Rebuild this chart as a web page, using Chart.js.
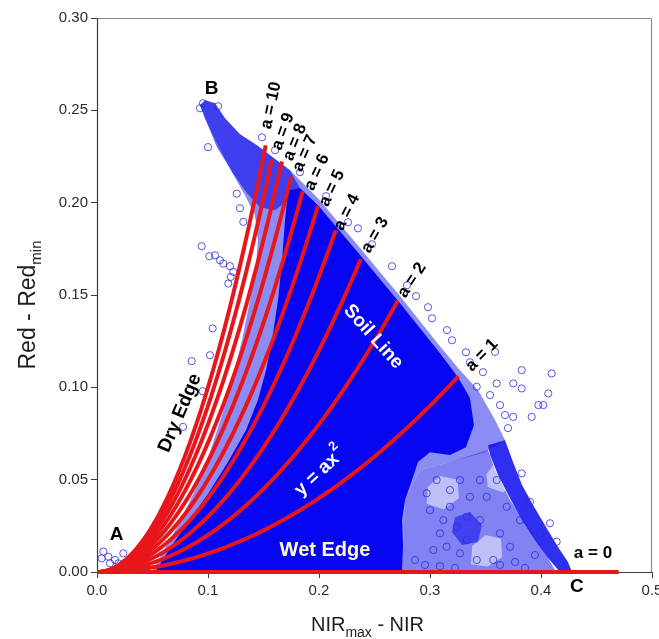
<!DOCTYPE html>
<html>
<head>
<meta charset="utf-8">
<script src="https://cdn.jsdelivr.net/npm/chart.js@4.4.1/dist/chart.umd.min.js"></script>
<style>
  html, body { margin: 0; padding: 0; background: #ffffff; }
  canvas { display: block; }
</style>
</head>
<body>
<canvas id="chart" width="659" height="639"></canvas>
<script>
// ---- y = a·x² family: coefficient a and the x where each curve reaches the soil line
const curveA    = [10, 9, 8, 7, 6, 5, 4, 3, 2, 1];
const curveEndX = [0.152, 0.1574, 0.1667, 0.1748, 0.1853, 0.1991, 0.2151, 0.2376, 0.271, 0.3255];
const wetEdgeEndX = 0.47;   // a = 0 runs along the x axis

// ---- axis ticks
const xTickValues = [0, 0.1, 0.2, 0.3, 0.4, 0.5];
const yTickValues = [0, 0.05, 0.10, 0.15, 0.20, 0.25, 0.30];

// ---- pixel cloud: outlines of the point-density zones, [NIRmax-NIR, Red-Redmin]
const cloudEnvelope = [
  [0.0495,0],[0.0613,0.0130],[0.0748,0.0271],[0.0883,0.0444],[0.1018,0.0649],[0.1126,0.0850],
  [0.1216,0.1039],[0.1306,0.1255],[0.1378,0.1472],[0.1432,0.1661],[0.1450,0.1797],[0.1423,0.1932],
  [0.1333,0.2040],[0.1216,0.2165],[0.1090,0.2311],[0.0973,0.2457],[0.0928,0.2527],[0.0973,0.2554],
  [0.1063,0.2538],[0.1153,0.2457],[0.1288,0.2370],[0.1441,0.2311],[0.1622,0.2229],[0.1739,0.2175],
  [0.1991,0.2024],[0.2189,0.1883],[0.2387,0.1742],[0.2595,0.1591],[0.2730,0.1494],[0.2910,0.1358],
  [0.3090,0.1223],[0.3270,0.1093],[0.3432,0.0985],[0.3586,0.0823],[0.3676,0.0714],[0.3495,0.0649],
  [0.3180,0.0595],[0.2910,0.0552],[0.2775,0.0390],[0.2748,0]
];
const cloudCore = [
  [0.0523,0],[0.0658,0.0130],[0.0820,0.0271],[0.1000,0.0422],[0.1180,0.0595],[0.1342,0.0768],
  [0.1450,0.0931],[0.1523,0.1093],[0.1577,0.1255],[0.1631,0.1472],[0.1667,0.1688],[0.1694,0.1905],
  [0.1721,0.2067],[0.1829,0.2078],[0.1991,0.1986],[0.2189,0.1845],[0.2387,0.1705],[0.2595,0.1553],
  [0.2730,0.1456],[0.2910,0.1320],[0.3090,0.1185],[0.3252,0.1055],[0.3360,0.0942],[0.3396,0.0795],
  [0.3324,0.0676],[0.3180,0.0633],[0.3000,0.0649],[0.2892,0.0595],[0.2838,0.0498],[0.2775,0.0390],
  [0.2748,0.0281],[0.2757,0.0146],[0.2748,0]
];
const bandB = [
  [0.0973,0.2554],[0.1063,0.2538],[0.1153,0.2457],[0.1288,0.2370],[0.1441,0.2311],[0.1622,0.2229],
  [0.1739,0.2175],[0.1829,0.2078],[0.1721,0.2013],[0.1604,0.1959],[0.1468,0.1975],[0.1351,0.2051],
  [0.1225,0.2159],[0.1081,0.2300],[0.0973,0.2457],[0.0928,0.2527]
];
const sparseZone = [
  [0.2748,0],[0.2775,0.039],[0.291,0.0552],[0.318,0.0595],[0.3523,0.0660],[0.3586,0.0552],
  [0.3721,0.039],[0.3901,0.0227],[0.4063,0.0076],[0.4135,0]
];
const lowerArm = [
  [0.3676,0.0714],[0.3748,0.0595],[0.3829,0.0471],[0.3928,0.0363],[0.4045,0.0244],[0.4153,0.0135],
  [0.4243,0.0054],[0.4279,0],[0.4171,0],[0.4063,0.0076],[0.3946,0.0173],[0.3829,0.0281],
  [0.3721,0.0400],[0.3613,0.0525],[0.3541,0.0633],[0.3523,0.0687]
];
const midCluster = [
  [0.3225,0.0297],[0.3360,0.0325],[0.3468,0.0254],[0.3432,0.0162],[0.3288,0.0146],[0.3198,0.0216]
];
// gaps with few pixels inside the sparse zone
const gapWest  = [[0.297,0.037],[0.312,0.034],[0.326,0.040],[0.325,0.050],[0.309,0.052],[0.298,0.046]];
const gapEast  = [[0.352,0.046],[0.366,0.043],[0.377,0.050],[0.372,0.058],[0.358,0.059],[0.351,0.053]];
const gapSouth = [[0.337,0.004],[0.352,0.003],[0.365,0.008],[0.364,0.018],[0.350,0.020],[0.338,0.014]];
// individual pixels outside the dense zones
const loosePoints = [
  [0.3586,0.1192],[0.3826,0.1093],[0.4096,0.1075],[0.3601,0.1021],[0.3750,0.1021],[0.3826,0.0994],
  [0.4066,0.0967],[0.3976,0.0904],[0.4021,0.0904],[0.3676,0.0850],[0.3750,0.0840],[0.3916,0.0840],
  [0.3421,0.1003],[0.3826,0.0534],[0.3901,0.0380],[0.4081,0.0264],[0.4141,0.0164],
  [0.1042,0.1319],[0.1018,0.1174],[0.0853,0.1142],[0.0952,0.0979],[0.0775,0.0786],
  [0.0943,0.1764],[0.1012,0.1710],[0.1063,0.1715],[0.1108,0.1688],[0.1138,0.1670],[0.1198,0.1656],
  [0.1228,0.1625],[0.1205,0.1598],[0.1183,0.1562],[0.1288,0.1970],[0.1318,0.1896],[0.1259,0.2049],
  [0.1090,0.2522],[0.1000,0.2301],[0.0955,0.2538],[0.0928,0.2511],
  [0.0057,0.0110],[0.0042,0.0074],[0.0102,0.0083],[0.0162,0.0065],[0.0237,0.0101],[0.0192,0.0047],[0.0117,0.0047],
  [0.1486,0.2354],[0.1604,0.2284],[0.1829,0.2165],[0.2063,0.2035],[0.2261,0.1894],[0.2351,0.1861],
  [0.2477,0.1775],[0.2658,0.1656],[0.2793,0.1553],[0.2874,0.1494],[0.2982,0.1434],[0.3018,0.1374],
  [0.3153,0.1310],[0.3198,0.1255],[0.3324,0.1190],[0.3360,0.1136],[0.3477,0.1082],[0.3541,0.0958],
  [0.3631,0.0904],[0.3703,0.0779],
  [0.2970,0.0426],[0.3060,0.0498],[0.3180,0.0444],[0.3270,0.0498],[0.3360,0.0407],[0.3000,0.0335],
  [0.3120,0.0281],[0.3240,0.0245],[0.3331,0.0173],[0.3450,0.0281],[0.3631,0.0209],[0.3721,0.0137],
  [0.3150,0.0137],[0.3030,0.0119],[0.3270,0.0101],[0.3421,0.0065],[0.3570,0.0065],[0.3331,0.0299],
  [0.3511,0.0407],[0.3450,0.0498],[0.3601,0.0498],[0.3691,0.0353],[0.3811,0.0281],[0.3991,0.0209],
  [0.3871,0.0372],[0.3180,0.0353],[0.3090,0.0209],[0.2865,0.0065],[0.2955,0.0038],[0.3090,0.0032],
  [0.3225,0.0022],[0.3631,0.0038],[0.3766,0.0054],[0.3856,0.0022],[0.3946,0.0092]
];

// ---- annotation text placed in data coordinates
const FONT = '"Liberation Sans", Arial, Helvetica, sans-serif';
const plotLabels = [
  { text: 'a = 10', x: 0.1568, y: 0.2527, rot: -78 },
  { text: 'a = 9',  x: 0.1676, y: 0.2386, rot: -70 },
  { text: 'a = 8',  x: 0.1784, y: 0.2327, rot: -68 },
  { text: 'a = 7',  x: 0.1874, y: 0.2267, rot: -66 },
  { text: 'a = 6',  x: 0.1982, y: 0.2165, rot: -65 },
  { text: 'a = 5',  x: 0.2117, y: 0.2078, rot: -64 },
  { text: 'a = 4',  x: 0.2252, y: 0.1948, rot: -63 },
  { text: 'a = 3',  x: 0.2505, y: 0.1824, rot: -60 },
  { text: 'a = 2',  x: 0.2838, y: 0.1580, rot: -57 },
  { text: 'a = 1',  x: 0.3468, y: 0.1174, rot: -46 },
  { text: 'a = 0',  x: 0.4468, y: 0.0103, rot: 0 },
  { text: 'B', x: 0.1033, y: 0.2617, rot: 0, size: 19 },
  { text: 'A', x: 0.0177, y: 0.0200, rot: 0, size: 19 },
  { text: 'C', x: 0.4322, y: -0.0080, rot: 0, size: 19 },
  { text: 'Dry Edge',  x: 0.0748, y: 0.0860, rot: -67, size: 19 },
  { text: 'Soil Line', x: 0.2489, y: 0.1274, rot: 48, size: 19, color: '#ffffff' },
  { text: 'Wet Edge',  x: 0.2054, y: 0.0119, rot: 0, size: 20, color: '#ffffc8' },
  { text: 'y = ax', sup: '2', x: 0.2009, y: 0.0542, rot: -43, size: 19, color: '#ffffff' }
];

const toPts = arr => arr.map(([x, y]) => ({ x, y }));

function zone(data, color, order) {
  return {
    type: 'line', data: toPts(data), order,
    borderWidth: 0, borderColor: 'rgba(0,0,0,0)', backgroundColor: color,
    pointRadius: 0, tension: 0, fill: 'shape', clip: false
  };
}

// each curve is y = a·x², as labelled on the plot
function curvePoints(a, endX) {
  const pts = [];
  const n = 60;
  for (let i = 0; i <= n; i++) {
    const x = endX * i / n;
    pts.push({ x, y: a * x * x });
  }
  return pts;
}

const RED = 'rgb(232,22,26)';
const datasets = [];
curveA.forEach((a, i) => {
  datasets.push({
    type: 'line', label: 'a = ' + a, data: curvePoints(a, curveEndX[i]), order: 1,
    borderColor: RED, borderWidth: 4, pointRadius: 0, tension: 0, fill: false
  });
});
datasets.push({
  type: 'line', label: 'a = 0', data: [{ x: 0, y: 0 }, { x: wetEdgeEndX, y: 0 }], order: 1,
  borderColor: RED, borderWidth: 4, pointRadius: 0, fill: false, clip: 4
});
datasets.push({
  type: 'scatter', label: 'pixels', data: toPts(loosePoints), order: 2,
  pointStyle: 'circle', pointRadius: 3.6, borderWidth: 1,
  borderColor: 'rgba(45,45,215,0.8)', backgroundColor: 'rgba(0,0,0,0)'
});
datasets.push(zone(lowerArm,   'rgba(10,10,238,0.85)', 3));
datasets.push(zone(midCluster, 'rgba(12,12,235,0.55)', 3));
datasets.push(zone(cloudCore,  'rgb(6,6,242)', 4));
datasets.push(zone(bandB,      'rgba(12,12,235,0.6)', 5));
datasets.push(zone(gapWest,    'rgba(255,255,255,0.5)', 6));
datasets.push(zone(gapEast,    'rgba(255,255,255,0.5)', 6));
datasets.push(zone(gapSouth,   'rgba(255,255,255,0.5)', 6));
datasets.push(zone(sparseZone, 'rgba(28,28,234,0.55)', 7));
datasets.push(zone(cloudEnvelope, 'rgba(25,25,235,0.5)', 8));

// plot frame
const framePlugin = {
  id: 'frame',
  beforeDatasetsDraw(chart) {
    const { ctx, chartArea: a } = chart;
    ctx.save();
    ctx.lineWidth = 1.2;
    ctx.strokeStyle = '#8a8a8a';
    ctx.beginPath();
    ctx.moveTo(a.left, a.top + 0.5);
    ctx.lineTo(a.right - 0.5, a.top + 0.5);
    ctx.lineTo(a.right - 0.5, a.bottom);
    ctx.stroke();
    ctx.strokeStyle = '#3a3a3a';
    ctx.beginPath();
    ctx.moveTo(a.left + 0.5, a.top);
    ctx.lineTo(a.left + 0.5, a.bottom + 0.5);
    ctx.lineTo(a.right, a.bottom + 0.5);
    ctx.stroke();
    ctx.restore();
  }
};

// annotation text and axis titles with sub/superscripts
const textPlugin = {
  id: 'texts',
  afterDatasetsDraw(chart) {
    const { ctx, scales: { x, y }, chartArea: area } = chart;
    ctx.save();
    plotLabels.forEach(l => {
      const size = l.size || 17;
      const px = x.getPixelForValue(l.x), py = y.getPixelForValue(l.y);
      ctx.save();
      ctx.translate(px, py);
      ctx.rotate(l.rot * Math.PI / 180);
      ctx.fillStyle = l.color || '#000000';
      ctx.textBaseline = 'middle';
      ctx.font = 'bold ' + size + 'px ' + FONT;
      if (l.sup) {
        const w1 = ctx.measureText(l.text).width;
        ctx.font = 'bold ' + Math.round(size * 0.68) + 'px ' + FONT;
        const w2 = ctx.measureText(l.sup).width;
        const start = -(w1 + w2 + 1) / 2;
        ctx.textAlign = 'left';
        ctx.font = 'bold ' + size + 'px ' + FONT;
        ctx.fillText(l.text, start, 0);
        ctx.font = 'bold ' + Math.round(size * 0.68) + 'px ' + FONT;
        ctx.fillText(l.sup, start + w1 + 1, -size * 0.5);
      } else {
        ctx.textAlign = 'center';
        ctx.fillText(l.text, 0, 0);
      }
      ctx.restore();
    });

    ctx.fillStyle = '#1e1e1e';
    ctx.textBaseline = 'alphabetic';
    ctx.textAlign = 'left';

    // x axis title: NIR_max - NIR
    let big = '20px ' + FONT, small = '14px ' + FONT;
    ctx.font = big;  const a1 = ctx.measureText('NIR').width;
    ctx.font = small; const a2 = ctx.measureText('max').width;
    ctx.font = big;  const a3 = ctx.measureText(' - NIR').width;
    let sx = (area.left + area.right) / 2 - 7 - (a1 + a2 + a3) / 2;
    const by = 631;
    ctx.font = big;   ctx.fillText('NIR', sx, by);
    ctx.font = small; ctx.fillText('max', sx + a1, by + 6);
    ctx.font = big;   ctx.fillText(' - NIR', sx + a1 + a2, by);

    // y axis title: Red - Red_min
    big = '23px ' + FONT; small = '15px ' + FONT;
    ctx.save();
    ctx.translate(35, (area.top + area.bottom) / 2 + 10);
    ctx.rotate(-Math.PI / 2);
    ctx.font = big;   const b1 = ctx.measureText('Red - Red').width;
    ctx.font = small; const b2 = ctx.measureText('min').width;
    const s0 = -(b1 + b2) / 2;
    ctx.font = big;   ctx.fillText('Red - Red', s0, 0);
    ctx.font = small; ctx.fillText('min', s0 + b1, 6);
    ctx.restore();
    ctx.restore();
  }
};

const tickFont = { family: FONT, size: 15 };

new Chart(document.getElementById('chart'), {
  type: 'scatter',
  data: { datasets },
  options: {
    responsive: false,
    animation: false,
    events: [],
    layout: { padding: { left: 0, top: 18, right: 7, bottom: 0 } },
    plugins: { legend: { display: false }, tooltip: { enabled: false } },
    scales: {
      x: {
        type: 'linear', min: 0, max: 0.5,
        afterBuildTicks: s => { s.ticks = xTickValues.map(v => ({ value: v })); },
        ticks: { callback: v => v.toFixed(1), color: '#2a2a2a', font: tickFont, padding: 4, maxRotation: 0, autoSkip: false },
        grid: { drawOnChartArea: false, drawTicks: true, tickLength: 6, color: '#3a3a3a' },
        border: { display: false },
        afterFit: s => { s.height = 67; s.paddingLeft = 0; s.paddingRight = 0; }
      },
      y: {
        type: 'linear', min: 0, max: 0.30,
        afterBuildTicks: s => { s.ticks = yTickValues.map(v => ({ value: v })); },
        ticks: { callback: v => v.toFixed(2), color: '#2a2a2a', font: tickFont, padding: 3, autoSkip: false },
        grid: { drawOnChartArea: false, drawTicks: true, tickLength: 6, color: '#3a3a3a' },
        border: { display: false },
        afterFit: s => { s.width = 97; s.paddingTop = 0; s.paddingBottom = 0; }
      }
    }
  },
  plugins: [framePlugin, textPlugin]
});
</script>
</body>
</html>
